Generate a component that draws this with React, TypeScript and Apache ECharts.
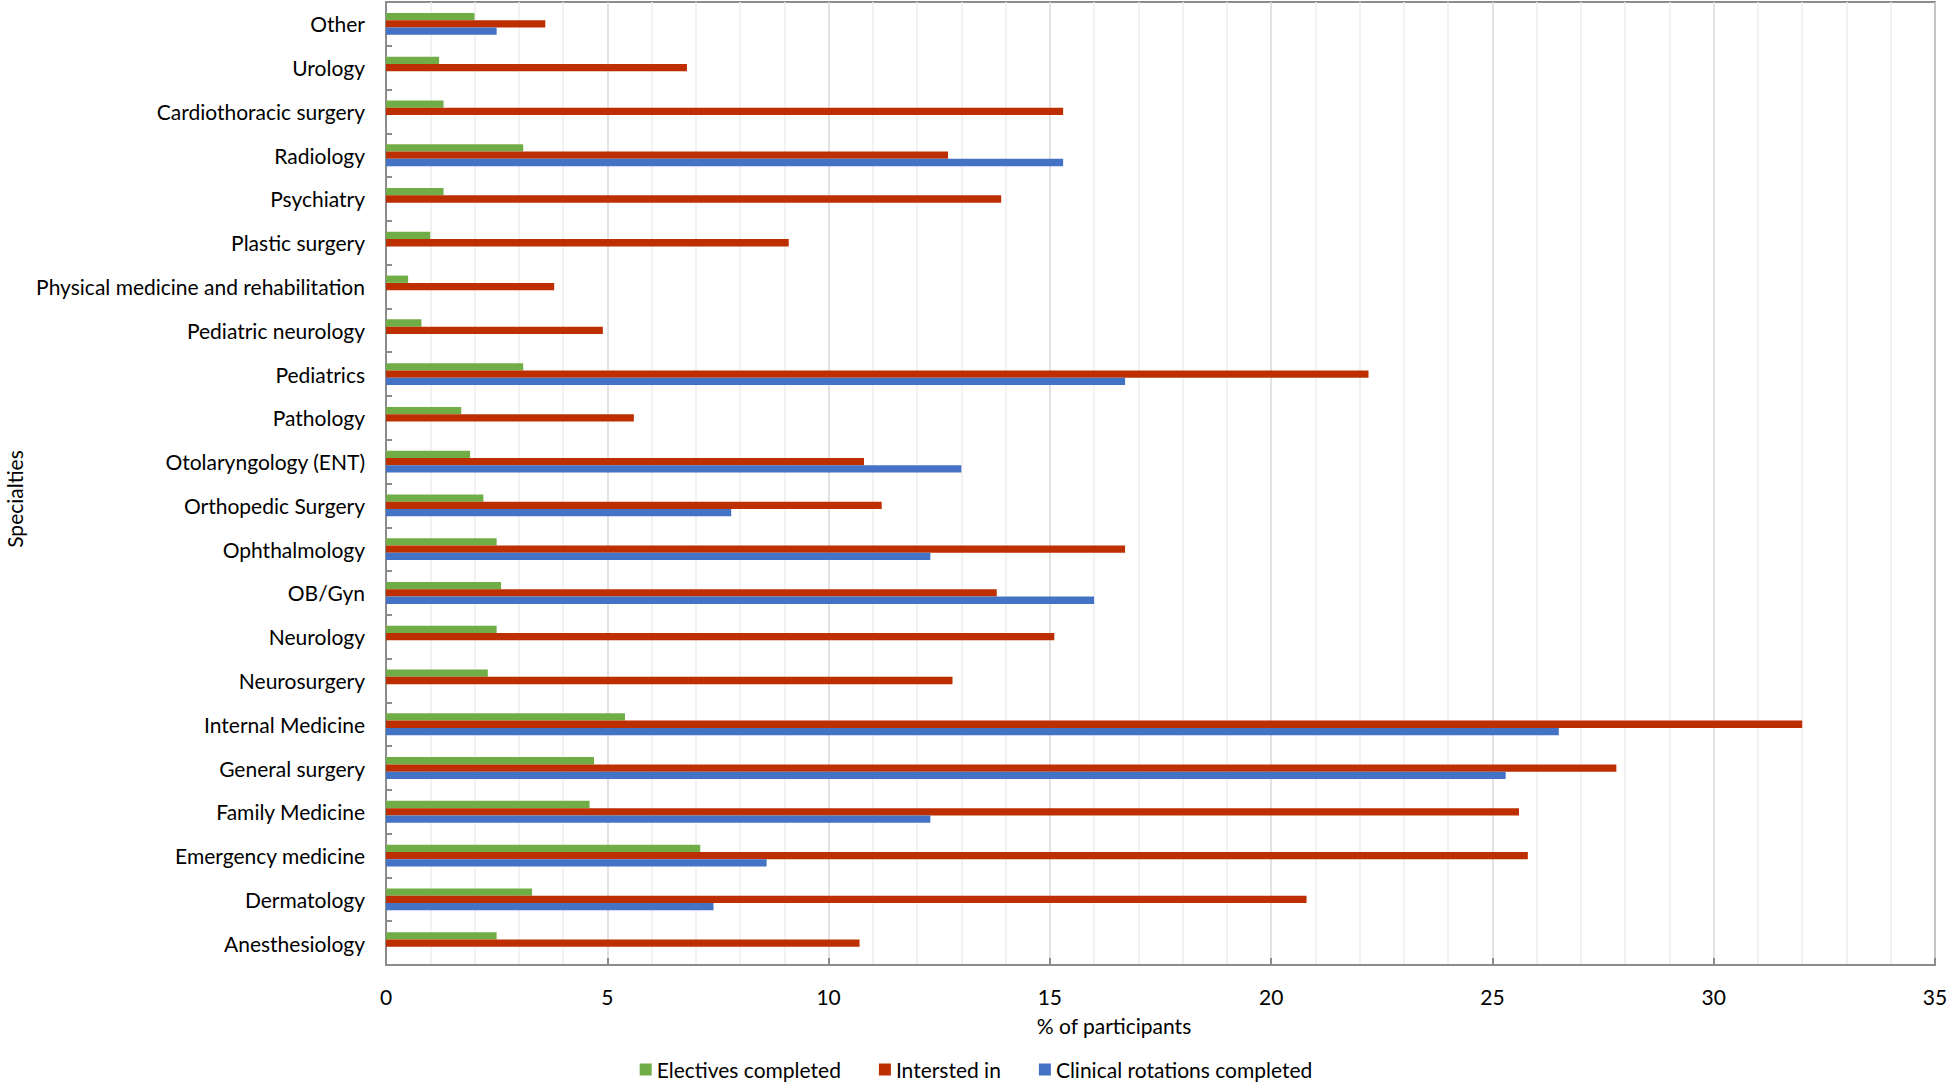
import React, { useEffect, useRef } from "react";
import * as echarts from "echarts";

const categories = [
  "Anesthesiology",
  "Dermatology",
  "Emergency medicine",
  "Family Medicine",
  "General surgery",
  "Internal Medicine",
  "Neurosurgery",
  "Neurology",
  "OB/Gyn",
  "Ophthalmology",
  "Orthopedic Surgery",
  "Otolaryngology (ENT)",
  "Pathology",
  "Pediatrics",
  "Pediatric neurology",
  "Physical medicine and rehabilitation",
  "Plastic surgery",
  "Psychiatry",
  "Radiology",
  "Cardiothoracic surgery",
  "Urology",
  "Other",
];

const electives = [2.5, 3.3, 7.1, 4.6, 4.7, 5.4, 2.3, 2.5, 2.6, 2.5, 2.2, 1.9, 1.7, 3.1, 0.8, 0.5, 1.0, 1.3, 3.1, 1.3, 1.2, 2.0];
const interested = [10.7, 20.8, 25.8, 25.6, 27.8, 32.0, 12.8, 15.1, 13.8, 16.7, 11.2, 10.8, 5.6, 22.2, 4.9, 3.8, 9.1, 13.9, 12.7, 15.3, 6.8, 3.6];
const rotations = [0, 7.4, 8.6, 12.3, 25.3, 26.5, 0, 0, 16.0, 12.3, 7.8, 13.0, 0, 16.7, 0, 0, 0, 0, 15.3, 0, 0, 2.5];

const seriesNames = ["Electives completed", "Intersted in", "Clinical rotations completed"];
const seriesColors = ["#70ad47", "#bd2f00", "#4472c4"];

const xMin = 0;
const xMax = 35;
const xInterval = 5;

const FONT = "Lato";
const FS = 21;

export default function App() {
  const ref = useRef<HTMLDivElement>(null);

  useEffect(() => {
    if (!ref.current) return;
    const chart = echarts.init(ref.current, undefined, { renderer: "svg" });
    const axisGrey = "#8c8c8c";
    chart.setOption({
      animation: false,
      backgroundColor: "#ffffff",
      textStyle: { fontFamily: FONT, color: "#000" },
      grid: {
        left: 386,
        right: 17,
        top: 2,
        bottom: 119,
        show: true,
        borderColor: axisGrey,
        borderWidth: 2,
        backgroundColor: "transparent",
      },
      legend: {
        data: seriesNames,
        left: "center",
        top: 1059,
        padding: 0,
        itemWidth: 12,
        itemHeight: 12,
        itemGap: 38,
        icon: "rect",
        textStyle: { fontFamily: FONT, fontSize: FS, color: "#000" },
      },
      xAxis: {
        type: "value",
        min: xMin,
        max: xMax,
        interval: xInterval,
        axisLine: { show: true, lineStyle: { color: axisGrey, width: 2 } },
        axisTick: { show: true, inside: true, length: 7, lineStyle: { color: axisGrey, width: 2 } },
        axisLabel: { margin: 21, fontFamily: FONT, fontSize: FS, color: "#000" },
        splitLine: { show: true, lineStyle: { color: "#d9d9d9", width: 1.5 } },
        minorTick: { show: false, splitNumber: 5 },
        minorSplitLine: { show: true, lineStyle: { color: "#eeeeee", width: 1.5 } },
      },
      yAxis: {
        type: "category",
        data: categories,
        axisLine: { show: true, lineStyle: { color: axisGrey, width: 2 } },
        axisTick: { show: true, inside: true, length: 6, lineStyle: { color: axisGrey, width: 2 } },
        axisLabel: { margin: 21, fontFamily: FONT, fontSize: FS, color: "#000" },
        splitLine: { show: false },
      },
      graphic: [
        {
          type: "text",
          x: 1114,
          y: 1025,
          style: {
            text: "% of participants",
            align: "center",
            verticalAlign: "middle",
            fontFamily: FONT,
            fontSize: FS,
            fill: "#000",
          },
        },
        {
          type: "text",
          x: 14,
          y: 499,
          rotation: Math.PI / 2,
          style: {
            text: "Specialties",
            align: "center",
            verticalAlign: "middle",
            fontFamily: FONT,
            fontSize: FS,
            fill: "#000",
          },
        },
      ],
      series: [electives, interested, rotations].map((d, i) => ({
        name: seriesNames[i],
        type: "bar",
        data: d,
        barCategoryGap: "50%",
        barGap: "0%",
        itemStyle: { color: seriesColors[i] },
      })),
    });
    return () => chart.dispose();
  }, []);

  return (
    <div
      ref={ref}
      style={{ position: "fixed", left: 0, top: 0, width: 1952, height: 1084, background: "#fff" }}
    />
  );
}
